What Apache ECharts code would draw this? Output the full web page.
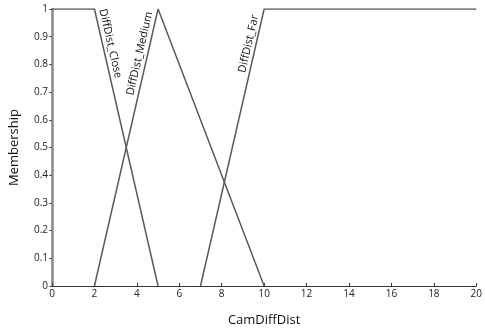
<!DOCTYPE html>
<html>
<head>
<meta charset="utf-8">
<script src="https://cdn.jsdelivr.net/npm/echarts@6/dist/echarts.min.js"></script>
<style>
    html, body { margin: 0; padding: 0; background: #fff; }
    #chart { width: 485px; height: 332px; }
</style>
</head>
<body>
<div id="chart"></div>
<script>
// membership functions of CamDiffDist
const setNames = ['DiffDist_Close', 'DiffDist_Medium', 'DiffDist_Far'];
const closeX = [0, 2, 5];
const closeY = [1, 1, 0];
const mediumX = [2, 5, 10];
const mediumY = [0, 1, 0];
const farX = [7, 10, 20];
const farY = [0, 1, 1];

const xTicks = [0, 2, 4, 6, 8, 10, 12, 14, 16, 18, 20];
const yTicks = [0, 0.1, 0.2, 0.3, 0.4, 0.5, 0.6, 0.7, 0.8, 0.9, 1];

const font = 'Open Sans, DejaVu Sans, sans-serif';
const lineColor = '#5a5a5a';

function pairs (xs, ys) {
    return xs.map((x, i) => [x, ys[i]]);
}

const setData = [pairs(closeX, closeY), pairs(mediumX, mediumY), pairs(farX, farY)];

let myChart = echarts.init(document.getElementById('chart'));

myChart.setOption({
    animation: false,
    grid: { left: 52, right: 8, top: 9, bottom: 46 },
    xAxis: {
        type: 'value',
        min: xTicks[0],
        max: xTicks[xTicks.length - 1],
        interval: 2,
        name: 'CamDiffDist',
        nameLocation: 'middle',
        nameGap: 28,
        nameTextStyle: { fontFamily: font, fontSize: 13, color: '#111' },
        axisLine: { lineStyle: { color: '#333', width: 1 } },
        axisTick: { show: true, inside: true, length: 3, lineStyle: { color: '#333' } },
        axisLabel: { fontFamily: font, fontSize: 10, color: '#222', margin: 3 },
        splitLine: { show: false }
    },
    yAxis: {
        type: 'value',
        min: yTicks[0],
        max: yTicks[yTicks.length - 1],
        interval: 0.1,
        name: 'Membership',
        nameLocation: 'middle',
        nameGap: 31,
        nameTextStyle: { fontFamily: font, fontSize: 13, color: '#111' },
        axisLine: { show: true, lineStyle: { color: '#888', width: 2.5 } },
        axisTick: { show: true, length: 3, lineStyle: { color: '#555' } },
        axisLabel: {
            fontFamily: font, fontSize: 10, color: '#222', margin: 4,
            formatter: v => String(+v.toFixed(1))
        },
        splitLine: { show: false }
    },
    series: setData.map((d, i) => ({
        name: setNames[i],
        type: 'line',
        data: d,
        symbol: 'none',
        lineStyle: { color: lineColor, width: 1.5 },
        z: 3
    }))
});

// rotated names drawn along the rising / falling edges
const px = (x, y) => myChart.convertToPixel({ xAxisIndex: 0, yAxisIndex: 0 }, [x, y]);

function slopeAngle (a, b) {
    const p = px(a[0], a[1]);
    const q = px(b[0], b[1]);
    return Math.atan2(-(q[1] - p[1]), q[0] - p[0]);
}

const closeA = px(2.03, 0.995);
const mediumA = px(4.93, 0.985);
const farA = px(9.93, 0.985);

const txt = (text, pos, rot, align) => ({
    type: 'text',
    x: pos[0],
    y: pos[1],
    rotation: rot,
    style: {
        text: text,
        fontFamily: font,
        fontSize: 11,
        fill: '#111',
        align: align,
        verticalAlign: 'bottom'
    },
    z: 10
});

myChart.setOption({
    graphic: [
        txt(setNames[0], [closeA[0] + 2, closeA[1]], slopeAngle([2, 1], [5, 0]), 'left'),
        txt(setNames[1], [mediumA[0] - 2, mediumA[1]], slopeAngle([2, 0], [5, 1]), 'right'),
        txt(setNames[2], [farA[0] - 2, farA[1] + 3], slopeAngle([7, 0], [10, 1]), 'right')
    ]
});
</script>
</body>
</html>
